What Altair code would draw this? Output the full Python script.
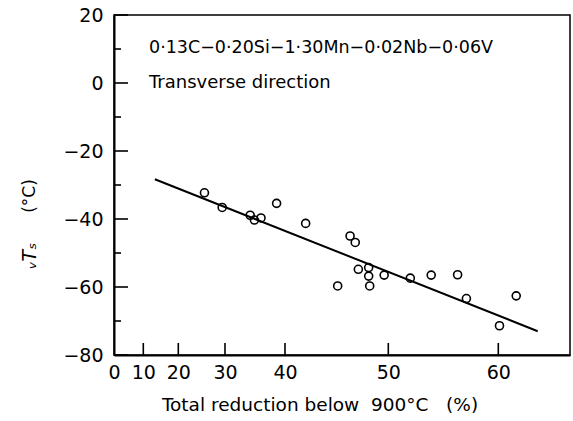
import altair as alt
import pandas as pd

# data
reduction = [25.6, 29.4, 34.2, 34.9, 36.0, 38.6, 42.0, 46.3, 46.8, 47.1, 48.1,
             48.1, 48.2, 45.1, 49.6, 52.0, 53.9, 56.3, 57.1, 60.1, 61.5]
vts = [-32.3, -36.6, -38.9, -40.3, -39.7, -35.4, -41.3, -45.0, -46.9, -54.8, -54.3,
       -56.8, -59.7, -59.7, -56.5, -57.4, -56.5, -56.4, -63.4, -71.4, -62.6]
fit_x = [13.3, 63.3]
fit_y = [-28.3, -73.0]
x_ticks = [0, 10, 20, 30, 40, 50, 60]
y_major = [-80, -60, -40, -20, 0, 20]
y_minor = [-70, -50, -30, -10, 10]

FONT = "DejaVu Sans"
W, H = 456, 340
NB = "\u00a0"

xscale = alt.Scale(domain=[0, 10, 20, 30, 40, 50, 60, 66],
                   range=[0, 29.3, 64.3, 111, 171, 274.3, 384.3, W],
                   nice=False, zero=False)
yscale = alt.Scale(domain=[-80, 20], nice=False, zero=False)

pts = pd.DataFrame({"r": reduction, "t": vts})
fit = pd.DataFrame({"r": fit_x, "t": fit_y})

xax = alt.Axis(values=x_ticks, ticks=False, grid=False, labelFont=FONT, labelFontSize=19,
               labelPadding=8, domainColor="black", domainWidth=2, labelColor="black",
               title=None, labelFlush=False)
yax = alt.Axis(values=y_major, ticks=False, grid=False, labelFont=FONT, labelFontSize=19,
               labelPadding=11, domainColor="black", domainWidth=2, labelColor="black",
               title=None, labelFlush=False)

points = alt.Chart(pts).mark_point(shape="circle", filled=False, color="black",
                                   size=64, strokeWidth=1.6, opacity=1).encode(
    x=alt.X("r:Q", scale=xscale, axis=xax),
    y=alt.Y("t:Q", scale=yscale, axis=yax),
)

line = alt.Chart(fit).mark_line(color="black", strokeWidth=2).encode(
    x=alt.X("r:Q", scale=xscale),
    y=alt.Y("t:Q", scale=yscale),
)

xt = alt.Chart(pd.DataFrame({"v": x_ticks[1:]})).mark_rule(color="black", strokeWidth=1.6).encode(
    x=alt.X("v:Q", scale=xscale), y=alt.value(H - 12), y2=alt.value(H))

ymaj = alt.Chart(pd.DataFrame({"v": y_major})).mark_rule(color="black", strokeWidth=1.6).encode(
    y=alt.Y("v:Q", scale=yscale), x=alt.value(0), x2=alt.value(14))

ymin = alt.Chart(pd.DataFrame({"v": y_minor})).mark_rule(color="black", strokeWidth=1.6).encode(
    y=alt.Y("v:Q", scale=yscale), x=alt.value(0), x2=alt.value(7))

def label(txt, x, y, size=16, angle=0, align="left", style="normal"):
    return alt.Chart(pd.DataFrame({"t": [txt]})).mark_text(
        font=FONT, fontSize=size, color="black", align=align, baseline="middle",
        angle=angle, fontStyle=style).encode(text="t:N", x=alt.value(x), y=alt.value(y))

t1 = label("0·13C−0·20Si−1·30Mn−0·02Nb−0·06V", 35, 33, 17.5)
t2 = label("Transverse" + NB + "direction", 35, 68, 18)
xtitle = label("Total" + NB + "reduction" + NB + "below" + NB * 2 + "900°C" + NB * 3 + "(%)",
               206, 390, 18.5, align="center")
ytitle1 = label("(°C)", -84, 181, 17, angle=270, align="center")
ytitle2 = label("ᵥTₛ", -84, 241, 19, angle=270, align="center", style="italic")

chart = alt.layer(ymaj, ymin, xt, line, points, t1, t2, xtitle, ytitle1, ytitle2).properties(
    width=W, height=H,
    autosize=alt.AutoSizeParams(type="none"),
    padding={"left": 114, "top": 15, "right": 3, "bottom": 66},
    background="white",
).configure_view(stroke="black", strokeWidth=1.5)

chart.save("out.html", embed_options={"renderer": "svg", "actions": False})
